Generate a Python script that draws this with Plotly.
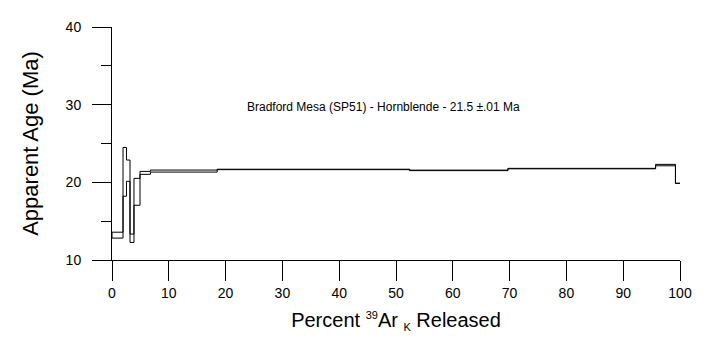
import plotly.graph_objects as go

# Cumulative percent 39ArK released at the end of each heating step
cum_pct = [1.94, 2.55, 3.17, 3.87, 4.93, 6.76, 18.52, 52.4, 69.7, 95.7, 99.2, 100.0]
# Apparent age (Ma) of each step and its error (Ma)
ages = [13.20, 21.35, 21.50, 12.80, 18.78, 21.22, 21.45, 21.66, 21.54, 21.77, 22.22, 19.87]
errs = [0.38, 3.14, 1.37, 0.54, 1.73, 0.19, 0.13, 0.03, 0.03, 0.03, 0.09, 0.01]

x_ticks = [0, 10, 20, 30, 40, 50, 60, 70, 80, 90, 100]
y_ticks = [10, 20, 30, 40]
title_text = "Bradford Mesa (SP51) - Hornblende - 21.5 \u00b1.01 Ma"

FONT = "Arial, Liberation Sans, sans-serif"

starts = [0.0] + cum_pct[:-1]
upper = [a + e for a, e in zip(ages, errs)]
lower = [a - e for a, e in zip(ages, errs)]

# Build the age-spectrum outline: upper envelope left->right, lower right->left
xs, ys = [starts[0]], [lower[0]]
for i in range(len(ages)):
    xs += [starts[i], cum_pct[i]]
    ys += [upper[i], upper[i]]
for i in reversed(range(len(ages))):
    xs += [cum_pct[i], starts[i]]
    ys += [lower[i], lower[i]]

fig = go.Figure()
fig.add_trace(go.Scatter(x=xs, y=ys, mode="lines",
                         line=dict(color="black", width=1),
                         hoverinfo="skip", showlegend=False))

fig.add_annotation(x=47.8, y=29.65, text=title_text, showarrow=False,
                   font=dict(family=FONT, size=12, color="black"))

x_title = ('Percent <sup><span style="font-size:11px">39</span></sup>Ar '
           '<sub><span style="font-size:11px">K</span></sub> Released')

fig.update_layout(
    width=709, height=347,
    margin=dict(l=112, r=29, t=27, b=87),
    paper_bgcolor="white", plot_bgcolor="white",
    font=dict(family=FONT, color="black"),
    xaxis=dict(range=[0, 100], tickvals=x_ticks, ticks="outside", ticklen=20,
               tickcolor="black", tickwidth=1, showline=True, linecolor="black",
               linewidth=1, showgrid=False, zeroline=False,
               tickfont=dict(size=14, family=FONT),
               title=dict(text=x_title,
                          font=dict(size=20, family=FONT), standoff=13)),
    yaxis=dict(range=[10, 40], tickvals=y_ticks, ticks="outside", ticklen=19,
               tickcolor="black", tickwidth=1, showline=True, linecolor="black",
               linewidth=1, showgrid=False, zeroline=False,
               ticklabelstandoff=8,
               tickfont=dict(size=14, family=FONT),
               minor=dict(dtick=5, tick0=0, ticks="outside", ticklen=10,
                          tickcolor="black", tickwidth=1, showgrid=False),
               title=dict(text="Apparent Age (Ma)",
                          font=dict(size=22, family=FONT), standoff=20)),
)

fig.write_html("out.html")
